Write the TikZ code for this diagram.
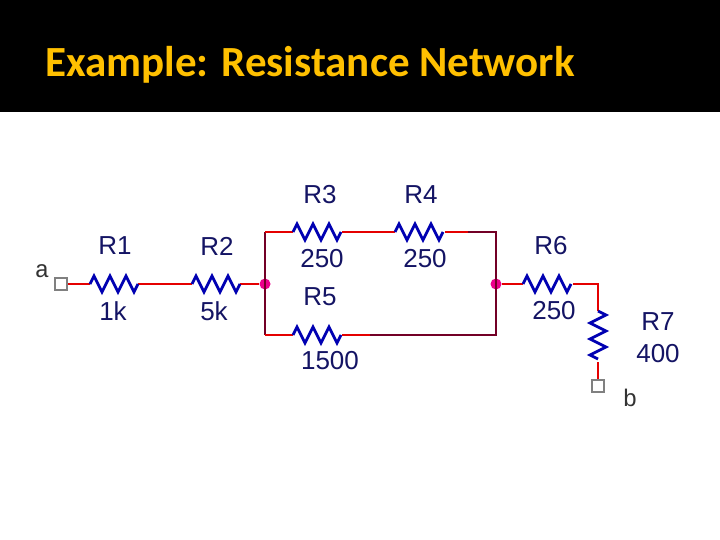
\documentclass[tikz,border=0pt]{standalone}
\usepackage{fontspec}
\setmainfont{Liberation Sans}
\newfontfamily\titlefont{Carlito}
\newfontfamily\termfont{Liberation Mono}
\begin{document}
\begin{tikzpicture}[x=1pt,y=-1pt,
  lbl/.style={text=lbc,font=\fontsize{26}{26}\selectfont,inner sep=0pt},
  wire/.style={red!90!black,line width=2.6pt},
  pwire/.style={purple!60!black,line width=2.6pt},
  zz/.style={blue!70!black,line width=2.8pt,line join=miter},
  term/.style={draw=gray,line width=2.8pt,minimum size=12pt,inner sep=0pt,fill=white},
  dot/.style={circle,fill=magenta,inner sep=0pt,minimum size=11pt}]
\definecolor{lbc}{RGB}{20,20,100}
\definecolor{ttl}{RGB}{255,192,0}
\useasboundingbox (0,0) rectangle (720,540);
\fill[white] (0,0) rectangle (720,540);
\fill[black] (0,0) rectangle (720,112);
\node[anchor=base west,text=ttl,font=\titlefont\bfseries\fontsize{43}{43}\selectfont,inner sep=0pt] (title) at (45,77) {Example: Resistance Network};
% terminals and junctions
\node[term] (ta) at (61,284) {};
\node[term] (tb) at (598,386) {};
\node[dot] (j1) at (265,284) {};
\node[dot] (j2) at (496,284) {};
\coordinate (tl) at (265,232); \coordinate (bl) at (265,335);
\coordinate (tr) at (496,232); \coordinate (br) at (496,335);
\coordinate (c6) at (598,284);
% wires
\draw[wire] (ta) -- (90,284) (138,284) -- (192,284) (240,284) -- (j1);
\draw[pwire] (tl) -- (bl);
\draw[wire] (tl) -- (293,232) (342,232) -- (395,232) (445,232) -- (468,232);
\draw[pwire] (468,232) -- (tr) -- (br) -- (370,335);
\draw[wire] (370,335) -- (342,335) (293,335) -- (bl);
\draw[wire] (j2) -- (523,284) (573,284) -- (c6) -- (598,311) (598,362) -- (tb);
% zigzags
\foreach \x/\y in {90/284,192/284,293/232,293/335,395/232,523/284}{
 \draw[zz] (\x,\y) -- ++(4,-8) -- ++(8,16) -- ++(8,-16) -- ++(8,16) -- ++(8,-16) -- ++(8,16) -- ++(4,-8);
}
\draw[zz] (598,311) -- ++(8,4) -- ++(-16,8) -- ++(16,8) -- ++(-16,8) -- ++(16,8) -- ++(-16,8) -- ++(8,4);
% labels
\node[lbl] (l1) at (115,246) {R1}; \node[lbl] (v1) at (113,311) {1k};
\node[lbl] (l2) at (217,246) {R2}; \node[lbl] (v2) at (214,311) {5k};
\node[lbl] (l3) at (320,195) {R3}; \node[lbl] (v3) at (322,259) {250};
\node[lbl] (l5) at (320,297) {R5}; \node[lbl] (v5) at (330,361) {1500};
\node[lbl] (l4) at (421,195) {R4}; \node[lbl] (v4) at (425,259) {250};
\node[lbl] (l6) at (551,246) {R6}; \node[lbl] (v6) at (554,311) {250};
\node[lbl] (l7) at (658,322) {R7}; \node[lbl] (v7) at (658,354) {400};
\node[font=\termfont\fontsize{24}{24}\selectfont,text=black!80,inner sep=0pt] (na) at (42,271) {a};
\node[font=\termfont\fontsize{24}{24}\selectfont,text=black!80,inner sep=0pt] (nb) at (630,398) {b};
\end{tikzpicture}
\end{document}
